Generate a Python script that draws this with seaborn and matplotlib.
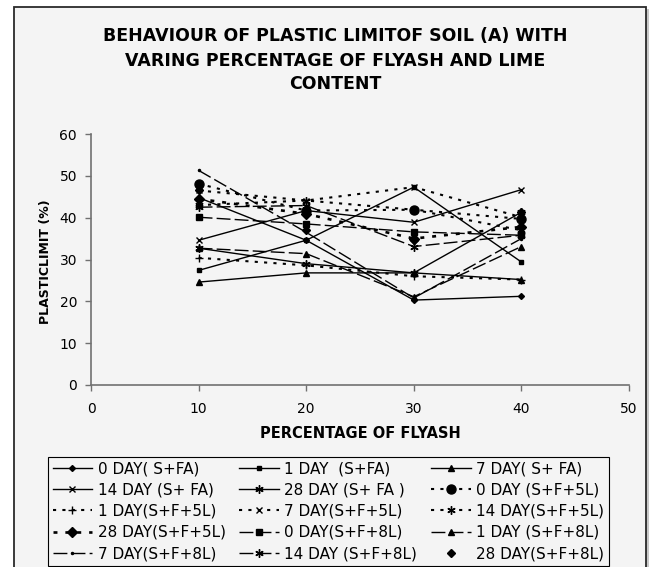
import matplotlib
matplotlib.use("Agg")
import matplotlib.pyplot as plt
import pandas as pd
import seaborn as sns
from matplotlib.patches import Rectangle

plt.rcParams["font.family"] = ["DejaVu Sans"]

# ---------------- data ----------------
flyash = [10, 20, 30, 40]

series_labels = [
    "0 DAY( S+FA)", "1 DAY  (S+FA)", "7 DAY( S+ FA)",
    "14 DAY (S+ FA)", "28 DAY (S+ FA )", "0 DAY (S+F+5L)",
    "1 DAY(S+F+5L)", "7 DAY(S+F+5L)", "14 DAY(S+F+5L)",
    "28 DAY(S+F+5L)", "0 DAY(S+F+8L)", "1 DAY (S+F+8L)",
    "7 DAY(S+F+8L)", "14 DAY (S+F+8L)", "28 DAY(S+F+8L)",
]

d0_sfa = [44.8, 34.6, 20.3, 21.2]
d1_sfa = [27.4, 34.6, 47.3, 29.4]
d7_sfa = [24.6, 26.8, 26.8, 25.2]
d14_sfa = [34.6, 41.7, 38.9, 46.7]
d28_sfa = [32.7, 29.0, 26.8, 41.3]
d0_5l = [48.1, 41.7, 41.9, 39.7]
d1_5l = [30.4, 28.6, 26.0, 25.2]
d7_5l = [46.5, 44.1, 47.3, 40.1]
d14_5l = [43.0, 44.1, 41.9, 37.0]
d28_5l = [44.5, 40.9, 35.0, 37.8]
d0_8l = [40.1, 38.5, 36.6, 35.8]
d1_8l = [32.7, 31.4, 21.1, 33.1]
d7_8l = [51.3, 36.5, 20.8, 35.0]
d14_8l = [42.5, 42.9, 33.1, 35.8]
d28_8l = [46.5, 37.0, 34.6, 41.3]

values = [d0_sfa, d1_sfa, d7_sfa, d14_sfa, d28_sfa,
          d0_5l, d1_5l, d7_5l, d14_5l, d28_5l,
          d0_8l, d1_8l, d7_8l, d14_8l, d28_8l]

# ---------------- styles ----------------
SOLID = "-"
DOT = (0, (1.5, 3))
LDASH = (0, (10, 3))
styles = [
    (SOLID, "D", 3.0, 1.0), (SOLID, "s", 3.5, 1.0), (SOLID, "^", 4.0, 1.0),
    (SOLID, "x", 5.0, 1.0), (SOLID, (6, 2, 0), 6.0, 1.0),
    (DOT, "o", 6.5, 1.5), (DOT, "+", 6.0, 1.5), (DOT, "x", 5.0, 1.5),
    (DOT, (6, 2, 0), 6.0, 1.5), (DOT, "D", 5.5, 1.9),
    (LDASH, "s", 4.0, 1.0), (LDASH, "^", 4.0, 1.0), (LDASH, ".", 3.0, 1.0),
    (LDASH, (6, 2, 0), 6.0, 1.0), ("none", "D", 4.5, 1.0),
]

BG = "#f4f4f4"
fig = plt.figure(figsize=(6.54, 5.67), dpi=100, facecolor="white")

# outer chart frame (behind the axes)
fig.patches.append(Rectangle((17 / 654, -0.01), 632 / 654, 1 - 9 / 567 + 0.01,
                             transform=fig.transFigure, facecolor="#c8c8c8",
                             edgecolor="none", zorder=-3))
fig.patches.append(Rectangle((14 / 654, -0.01), 632 / 654, 1 - 7 / 567 + 0.01,
                             transform=fig.transFigure, facecolor=BG,
                             edgecolor="#2a2a2a", linewidth=1.3, zorder=-2))

ax = fig.add_axes([91 / 654, (567 - 385) / 567, (629 - 91) / 654, (385 - 134) / 567])
ax.set_facecolor("none")

for lab, vals, (ls, mk, ms, lw) in zip(series_labels, values, styles):
    df = pd.DataFrame({"flyash": flyash, "pl": vals})
    sns.lineplot(data=df, x="flyash", y="pl", ax=ax, color="black",
                 linestyle=ls, linewidth=lw, marker=mk, markersize=ms,
                 markeredgecolor="black", markerfacecolor="black",
                 markeredgewidth=1.0, label=lab, zorder=3)

ax.set_xlim(0, 50)
ax.set_ylim(0, 60)
ax.set_xticks([0, 10, 20, 30, 40, 50])
ax.set_yticks([0, 10, 20, 30, 40, 50, 60])
for s in ["top", "right"]:
    ax.spines[s].set_visible(False)
for s in ["left", "bottom"]:
    ax.spines[s].set_color("#707070")
    ax.spines[s].set_linewidth(1.2)
ax.tick_params(axis="both", direction="out", length=4, width=1.0,
               color="#707070", labelsize=10, labelcolor="black")
ax.tick_params(axis="x", pad=8)
ax.tick_params(axis="y", pad=6)
ax.set_xlabel("")
ax.set_ylabel("")

fig.text(45 / 654, 1 - 262 / 567, "PLASTICLIMIT (%)", rotation=90,
         ha="center", va="center", fontsize=9, fontweight="bold")
fig.text(360 / 654, 1 - 433 / 567, "PERCENTAGE OF FLYASH", ha="center",
         va="center", fontsize=10.5, fontweight="bold")

title_lines = ["BEHAVIOUR OF PLASTIC LIMITOF SOIL (A) WITH",
               "VARING PERCENTAGE OF FLYASH AND LIME",
               "CONTENT"]
for line, yp in zip(title_lines, [36, 61, 84]):
    fig.text(335 / 654, 1 - yp / 567, line, ha="center", va="center",
             fontsize=12.5, fontweight="bold")

handles, labels = ax.get_legend_handles_labels()
ax.legend_.remove()
order = [r * 3 + c for c in range(3) for r in range(5)]
leg = fig.legend([handles[i] for i in order], [labels[i] for i in order],
                 ncol=3, loc="upper left",
                 bbox_to_anchor=(48 / 654, 1 - 457 / 567),
                 fontsize=11, frameon=True, fancybox=False,
                 edgecolor="black", facecolor=BG, framealpha=1,
                 handlelength=2.6, handletextpad=0.35, columnspacing=0.9,
                 labelspacing=0.4, borderpad=0.3, borderaxespad=0)
leg.get_frame().set_linewidth(0.8)

fig.savefig("out.png", dpi=100, facecolor="white")
